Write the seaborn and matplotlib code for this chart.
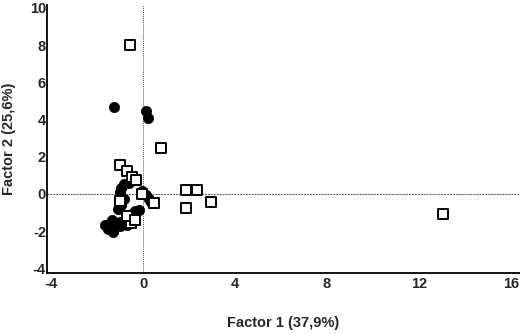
import matplotlib
matplotlib.use("Agg")
import matplotlib.pyplot as plt
import numpy as np
import pandas as pd
import seaborn as sns

# factor scores, group A (filled circles)
circ_f1 = [-1.26, 0.13, 0.22,
           -0.40, -0.60, -0.83, -0.95, -1.00,
           -0.05, 0.10, 0.25, 0.35,
           -0.85, -0.95, -1.10,
           -0.20, -0.35, -0.50, -0.60, -0.75, -0.85, -1.00, -1.20,
           -1.35, -1.50, -1.65, -1.40, -1.30, -1.55, -1.00, -0.70]
circ_f2 = [4.68, 4.46, 4.09,
           0.80, 0.60, 0.55, 0.30, 0.10,
           0.15, -0.05, -0.30, -0.45,
           -0.30, -0.60, -0.80,
           -0.85, -0.95, -1.10, -1.30, -1.45, -1.60, -1.50, -1.55,
           -1.40, -1.60, -1.70, -1.85, -2.05, -1.90, -1.75, -1.65]

# factor scores, group B (open squares)
sq_f1 = [-0.57, 0.78, -1.00, -0.70, -0.50, -0.30, -0.05, 0.45,
         1.87, 2.35, 1.87, 2.95, 13.05, -1.00, -0.55, -0.70, -0.35]
sq_f2 = [8.00, 2.45, 1.55, 1.25, 0.90, 0.75, 0.00, -0.50,
         0.20, 0.20, -0.75, -0.43, -1.08, -0.40, -1.55, -1.20, -1.40]

x_ticks = [-4, 0, 4, 8, 12, 16]
y_ticks = [-4, -2, 0, 2, 4, 6, 8, 10]

df = pd.concat([
    pd.DataFrame({'f1': circ_f1, 'f2': circ_f2, 'grp': 'A'}),
    pd.DataFrame({'f1': sq_f1, 'f2': sq_f2, 'grp': 'B'}),
])

sns.set_style("white")
plt.rcParams['font.family'] = ['Liberation Sans', 'DejaVu Sans']
plt.rcParams['font.weight'] = 'bold'
plt.rcParams['axes.unicode_minus'] = False

fig = plt.figure(figsize=(5.2, 3.34), dpi=100)
ax = fig.add_axes([0.09, 0.183, 0.91, 0.802])

ax.axvline(0, color='#555555', lw=0.7, ls=(0, (1, 1)), zorder=1)
ax.axhline(0, color='#555555', lw=0.7, ls=(0, (2, 1)), zorder=1)

sns.scatterplot(data=df[df.grp == 'A'], x='f1', y='f2', ax=ax,
                marker='o', s=55, color='black', edgecolor='black', linewidth=0.5, zorder=3)
sns.scatterplot(data=df[df.grp == 'B'], x='f1', y='f2', ax=ax,
                marker='s', s=45, color='white', edgecolor='black', linewidth=1.4, zorder=4)

ax.set_xlim(-4.2, 16.4)
ax.set_ylim(-4.25, 10.15)
ax.set_xticks(x_ticks)
ax.set_yticks(y_ticks)
ax.tick_params(length=0, labelsize=10.5)
ax.tick_params(axis='y', pad=0.5)
ax.tick_params(axis='x', pad=3)
for lbl in ax.get_xticklabels() + ax.get_yticklabels():
    lbl.set_fontweight('bold')
ax.set_xlabel('Factor 1 (37,9%)', fontsize=10.5, fontweight='bold', labelpad=18)
ax.set_ylabel('Factor 2 (25,6%)', fontsize=10.5, fontweight='bold', labelpad=10)

sns.despine(ax=ax)
for s in ['left', 'bottom']:
    ax.spines[s].set_color('black')
    ax.spines[s].set_linewidth(1.3)

plt.savefig('out.png', dpi=100)
